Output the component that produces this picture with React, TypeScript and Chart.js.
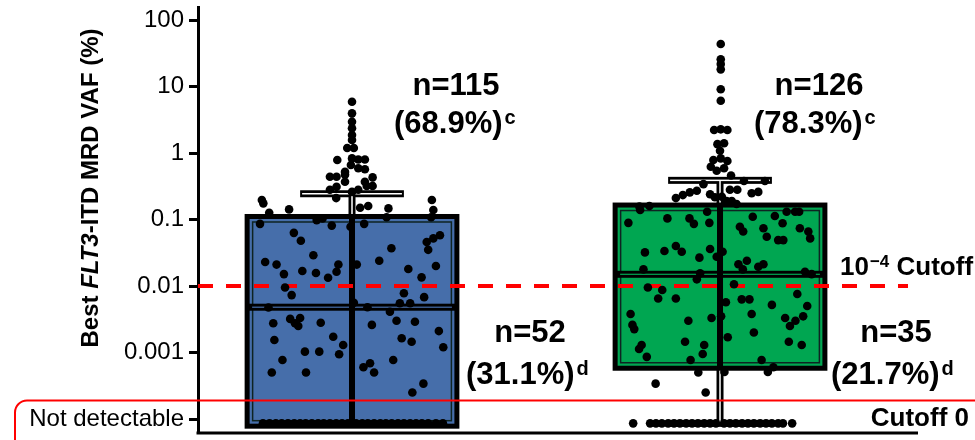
import React, { useEffect, useRef } from "react";
import { Chart, registerables } from "chart.js";

Chart.register(...registerables);

const FONT = "'Liberation Sans', Arial, Helvetica, sans-serif";

// ---------- data ----------
const groupCenters = [1, 2];
const boxColors = ["#466eaa", "#00a651"];

const yTickValues = [0.0001, 0.001, 0.01, 0.1, 1, 10, 100];
const yTickLabels = ["Not detectable", "0.001", "0.01", "0.1", "1", "10", "100"];
const notDetectableValue = 0.000086;
const cutoffValue = 0.01;

const boxQ1 = [0.000078, 0.00058];
const boxMedian = [0.0048, 0.015];
const boxQ3 = [0.111, 0.165];
const whiskerHigh = [0.244, 0.388];
const whiskerLow = [0.000078, 0.000086];

// [horizontal jitter offset (category units), VAF %]
const group1Points: [number, number][] = [
  [0, 5.9], [0, 3.95], [0, 2.96], [0, 2.35], [0, 1.87], [0, 1.57], [-0.013, 1.19], [0.005, 1.19],
  [-0.04, 0.785], [0, 0.83], [0.017, 0.8], [0.035, 0.8], [-0.003, 0.66], [0.017, 0.59], [0.035, 0.57],
  [-0.019, 0.52], [-0.06, 0.44], [-0.042, 0.44], [-0.019, 0.47], [-0.019, 0.37], [0.056, 0.43],
  [0.035, 0.37], [0.056, 0.32], [-0.042, 0.31], [-0.06, 0.28], [0.04, 0.32], [0, 0.26], [0.017, 0.28],
  [-0.043, 0.21],
  [-0.245, 0.196], [-0.241, 0.175], [-0.225, 0.126], [-0.171, 0.142], [0.022, 0.15], [0.044, 0.16],
  [0.099, 0.147], [0.217, 0.196], [0.221, 0.139], [0.215, 0.108], [0.094, 0.108], [-0.096, 0.098],
  [-0.08, 0.104], [-0.25, 0.086], [-0.055, 0.081], [-0.004, 0.078], [0.033, 0.086], [-0.158, 0.063],
  [-0.139, 0.048], [-0.105, 0.029], [0.107, 0.037], [0.203, 0.046], [0.221, 0.052], [0.239, 0.058],
  [0.207, 0.035],
  [0.153, 0.018], [0.228, 0.02], [0.189, 0.0135], [0.141, 0.0078], [0.13, 0.0055], [0.158, 0.0055],
  [0.196, 0.0068], [0.171, 0.0029], [0.135, 0.00164], [0.162, 0.00145], [0.236, 0.0021], [0.248, 0.0012],
  [0.194, 0.00034], [0.164, 0.00025],
  [-0.236, 0.023], [-0.205, 0.021], [-0.185, 0.0151], [-0.135, 0.0168], [-0.098, 0.0157], [-0.065, 0.0133],
  [-0.042, 0.0164], [-0.037, 0.021], [0.013, 0.021], [0.074, 0.024], [-0.182, 0.0095], [-0.164, 0.0073],
  [0.005, 0.0056], [0.042, 0.0048], [-0.227, 0.00475], [0.103, 0.0041], [-0.214, 0.00275], [-0.168, 0.0032],
  [-0.155, 0.00275], [-0.146, 0.0025], [-0.141, 0.0033], [-0.085, 0.0028], [0.054, 0.0026], [0.121, 0.003],
  [-0.211, 0.00154], [-0.051, 0.00173], [-0.024, 0.0013], [-0.128, 0.00103], [-0.089, 0.00103],
  [-0.035, 0.00094], [-0.189, 0.00077], [0.112, 0.00077], [-0.218, 0.0005], [-0.125, 0.0005],
  [0.031, 0.0006], [0.049, 0.00069], [0.06, 0.0005],
];
const group1NotDetectable = [
  -0.242, -0.224, -0.207, -0.191, -0.174, -0.157, -0.141, -0.126, -0.109, -0.092, -0.077, -0.06, -0.043,
  -0.027, -0.011, 0.011, 0.028, 0.043, 0.06, 0.077, 0.092, 0.108, 0.125, 0.141, 0.158, 0.174, 0.19, 0.207,
  0.228, 0.247,
];

const group2Points: [number, number][] = [
  [0.002, 43.5], [0.002, 25.6], [0.002, 21.8], [0.002, 18.1], [0.002, 9.1], [0.002, 6.1],
  [-0.016, 2.22], [0.002, 2.27], [0.02, 2.22], [-0.007, 1.36], [0.011, 1.4], [0, 1.08], [-0.018, 0.785],
  [0.002, 0.83], [0.02, 0.76], [-0.025, 0.62], [-0.009, 0.54], [0.011, 0.59], [0.03, 0.46], [0.065, 0.38],
  [0.122, 0.38], [-0.045, 0.34], [-0.063, 0.27], [-0.082, 0.256], [-0.101, 0.233], [-0.12, 0.21],
  [-0.027, 0.24], [-0.014, 0.216], [0.005, 0.22], [0.018, 0.19], [0.027, 0.28], [0.047, 0.28],
  [0.086, 0.248], [0.104, 0.26], [0.032, 0.19], [0.045, 0.171],
  [-0.219, 0.156], [-0.192, 0.16], [-0.217, 0.139], [-0.249, 0.089], [-0.143, 0.104], [-0.083, 0.104],
  [-0.071, 0.086], [-0.035, 0.131], [-0.029, 0.089], [0.089, 0.11], [0.149, 0.113], [0.181, 0.131],
  [0.204, 0.131], [0.215, 0.131], [0.17, 0.088], [0.118, 0.074], [0.127, 0.055], [0.158, 0.049],
  [0.172, 0.049], [0.217, 0.074], [0.24, 0.066], [0.245, 0.052], [0.054, 0.078], [0.063, 0.066],
  [-0.204, 0.032], [-0.151, 0.0336], [-0.12, 0.04], [-0.104, 0.0328], [-0.056, 0.0267], [-0.027, 0.036],
  [-0.009, 0.0276], [0.007, 0.0328], [0.05, 0.0212], [0.062, 0.0178], [0.073, 0.024], [0.104, 0.0195],
  [0.118, 0.0212], [-0.208, 0.0178], [-0.054, 0.0155], [-0.063, 0.0126], [0.231, 0.0164], [0.249, 0.0151],
  [0.038, 0.0106], [-0.196, 0.0095], [-0.157, 0.0087], [-0.168, 0.0065], [-0.12, 0.0065], [0.016, 0.0057],
  [0.059, 0.0063], [0.08, 0.0063], [0.141, 0.0052], [0.21, 0.0076], [0.237, 0.005], [-0.243, 0.0038],
  [-0.238, 0.0026], [-0.233, 0.00225], [-0.086, 0.003], [-0.023, 0.0033], [0.003, 0.0035], [0.086, 0.0038],
  [0.177, 0.0033], [0.19, 0.0025], [0.205, 0.003], [0.226, 0.0035], [0.021, 0.0017], [0.092, 0.002],
  [-0.213, 0.0013], [-0.22, 0.00113], [-0.199, 0.00086], [-0.095, 0.00145], [-0.043, 0.0013],
  [-0.047, 0.00095], [-0.08, 0.00077], [0.187, 0.00145], [0.222, 0.0013], [0.113, 0.00077],
  [-0.059, 0.0005], [0.012, 0.00051], [0.13, 0.00051], [0.145, 0.0006], [-0.175, 0.00034], [-0.039, 0.00025],
];
const group2NotDetectable = [
  -0.236, -0.19, -0.174, -0.158, -0.141, -0.125, -0.109, -0.092, -0.076, -0.06, -0.043, -0.027, -0.011,
  0.011, 0.027, 0.043, 0.06, 0.076, 0.092, 0.109, 0.125, 0.141, 0.158, 0.171, 0.196,
];

const aboveLabels = ["n=115", "n=126"];
const abovePercents = ["(68.9%)", "(78.3%)"];
const belowLabels = ["n=52", "n=35"];
const belowPercents = ["(31.1%)", "(21.7%)"];

// ---------- styling / geometry ----------
const boxHalfWidth = 0.285;
const capHalfWidth = 0.141;

function toPoints(center: number, pts: [number, number][], nd: number[]) {
  return pts
    .map(([dx, v]) => ({ x: center + dx, y: v }))
    .concat(nd.map((dx) => ({ x: center + dx, y: notDetectableValue })));
}

function drawWhisker(ctx: CanvasRenderingContext2D, cx: number, y1: number, y2: number) {
  ctx.fillStyle = "#000";
  ctx.fillRect(cx - 3.5, y1, 7, y2 - y1);
}
function drawWhiskerInner(ctx: CanvasRenderingContext2D, cx: number, y1: number, y2: number) {
  ctx.fillStyle = "#fff";
  ctx.fillRect(cx - 0.75, y1, 1.5, y2 - y1);
}
function drawCap(ctx: CanvasRenderingContext2D, cx: number, hw: number, y: number) {
  ctx.fillStyle = "#000";
  ctx.fillRect(cx - hw, y - 3.5, 2 * hw, 7);
}
function drawCapInner(ctx: CanvasRenderingContext2D, cx: number, hw: number, y: number) {
  ctx.fillStyle = "#fff";
  ctx.fillRect(cx - hw + 2, y - 0.75, 2 * hw - 4, 1.5);
}

const boxPlugin = {
  id: "boxes",
  beforeDatasetsDraw(chart: any) {
    const { ctx, chartArea } = chart;
    const xs = chart.scales.x;
    const ys = chart.scales.y;
    ctx.save();
    for (let i = 0; i < groupCenters.length; i++) {
      const cx = xs.getPixelForValue(groupCenters[i]);
      const hw = xs.getPixelForValue(groupCenters[i] + boxHalfWidth) - cx;
      const chw = xs.getPixelForValue(groupCenters[i] + capHalfWidth) - cx;
      const top = ys.getPixelForValue(boxQ3[i]);
      const bottom = ys.getPixelForValue(boxQ1[i]);
      const med = ys.getPixelForValue(boxMedian[i]);
      const wHi = ys.getPixelForValue(whiskerHigh[i]);
      const wLo = ys.getPixelForValue(whiskerLow[i]);
      const hasLow = wLo > bottom + 2;

      drawWhisker(ctx, cx, wHi, top);
      drawCap(ctx, cx, chw, wHi);
      if (hasLow) {
        drawWhisker(ctx, cx, bottom, wLo);
        drawCap(ctx, cx, chw, wLo);
      }
      drawWhiskerInner(ctx, cx, wHi, top);
      drawCapInner(ctx, cx, chw, wHi);
      if (hasLow) {
        drawWhiskerInner(ctx, cx, bottom, wLo);
        drawCapInner(ctx, cx, chw, wLo);
      }

      ctx.fillStyle = boxColors[i];
      ctx.fillRect(cx - hw, top, 2 * hw, bottom - top);
      ctx.strokeStyle = "#0e2422";
      ctx.lineWidth = 1.5;
      ctx.strokeRect(cx - hw + 5.5, top + 5.5, 2 * hw - 11, bottom - top - 11);
      ctx.strokeStyle = "#000";
      ctx.lineWidth = 5;
      ctx.strokeRect(cx - hw, top, 2 * hw, bottom - top);

      ctx.fillStyle = "#000";
      ctx.fillRect(cx - hw, med - 3.5, 2 * hw, 7);
      ctx.fillStyle = boxColors[i];
      ctx.fillRect(cx - hw + 5, med - 0.6, 2 * hw - 10, 1.2);

      ctx.fillStyle = "#000";
      ctx.fillRect(cx - 3, top, 6, bottom - top);
    }

    const yc = ys.getPixelForValue(cutoffValue);
    ctx.strokeStyle = "#ff0000";
    ctx.lineWidth = 4;
    ctx.setLineDash([15, 13]);
    ctx.beginPath();
    ctx.moveTo(chartArea.left, yc);
    ctx.lineTo(chartArea.right - 10, yc);
    ctx.stroke();
    ctx.setLineDash([]);
    ctx.restore();
  },
  afterDraw(chart: any) {
    const { ctx, chartArea } = chart;
    ctx.save();
    ctx.strokeStyle = "#000";
    ctx.lineWidth = 3;
    ctx.beginPath();
    ctx.moveTo(chartArea.left - 1.5, chartArea.bottom);
    ctx.lineTo(chartArea.right, chartArea.bottom);
    ctx.stroke();

    const parts = [
      { t: "Best ", it: false },
      { t: "FLT3", it: true },
      { t: "-ITD MRD VAF (%)", it: false },
    ];
    const fs = 24;
    const fontFor = (it: boolean) => `${it ? "italic " : ""}bold ${fs}px ${FONT}`;
    let total = 0;
    for (const p of parts) {
      ctx.font = fontFor(p.it);
      total += ctx.measureText(p.t).width;
    }
    ctx.translate(98, 188);
    ctx.rotate(-Math.PI / 2);
    ctx.fillStyle = "#000";
    ctx.textBaseline = "alphabetic";
    ctx.textAlign = "left";
    let xx = -total / 2;
    for (const p of parts) {
      ctx.font = fontFor(p.it);
      ctx.fillText(p.t, xx, 0);
      xx += ctx.measureText(p.t).width;
    }
    ctx.setTransform(1, 0, 0, 1, 0, 0);

    const big = `bold 31px ${FONT}`;
    const sup = `bold 20px ${FONT}`;
    ctx.fillStyle = "#000";
    ctx.textAlign = "center";
    ctx.font = big;
    ctx.fillText(aboveLabels[0], 456, 95);
    ctx.fillText(aboveLabels[1], 819, 95);
    ctx.fillText(belowLabels[0], 530, 342);
    ctx.fillText(belowLabels[1], 896, 342);

    const pct = (txt: string, s: string, x: number, y: number) => {
      ctx.textAlign = "left";
      ctx.font = big;
      ctx.fillText(txt, x, y);
      const w = ctx.measureText(txt).width;
      ctx.font = sup;
      ctx.fillText(s, x + w + 2, y - 9);
    };
    pct(abovePercents[0], "c", 394, 133);
    pct(abovePercents[1], "c", 754, 133);
    pct(belowPercents[0], "d", 466, 384);
    pct(belowPercents[1], "d", 831, 384);

    ctx.textAlign = "left";
    ctx.font = `bold 26px ${FONT}`;
    ctx.fillText("10", 840, 275);
    const w10 = ctx.measureText("10").width;
    ctx.font = `bold 17px ${FONT}`;
    ctx.fillText("\u22124", 840 + w10 + 1, 267);
    const wsup = ctx.measureText("\u22124").width;
    ctx.font = `bold 26px ${FONT}`;
    ctx.fillText(" Cutoff", 840 + w10 + 1 + wsup, 275);

    ctx.textAlign = "right";
    ctx.font = `bold 26px ${FONT}`;
    ctx.fillText("Cutoff 0", 969, 426);

    ctx.strokeStyle = "#ff0000";
    ctx.lineWidth = 2;
    ctx.beginPath();
    (ctx as any).roundRect(15, 400.5, 1000, 100, 12);
    ctx.stroke();
    ctx.restore();
  },
};

export default function App() {
  const ref = useRef<HTMLCanvasElement>(null);
  useEffect(() => {
    document.body.style.margin = "0";
    const canvas = ref.current!;
    const chart = new Chart(canvas, {
      type: "scatter",
      data: {
        datasets: [
          {
            data: toPoints(groupCenters[0], group1Points, group1NotDetectable),
            pointRadius: 4.3,
            pointBackgroundColor: "#000",
            pointBorderWidth: 0,
          },
          {
            data: toPoints(groupCenters[1], group2Points, group2NotDetectable),
            pointRadius: 4.3,
            pointBackgroundColor: "#000",
            pointBorderWidth: 0,
          },
        ],
      },
      options: {
        responsive: false,
        devicePixelRatio: 1,
        animation: false,
        layout: { padding: { left: 0, right: 57, top: 7, bottom: 7 } },
        plugins: { legend: { display: false }, tooltip: { enabled: false } },
        scales: {
          x: { type: "linear", display: false, min: 0.5815, max: 2.538 },
          y: {
            type: "logarithmic",
            min: 6.16e-5,
            max: 156.9,
            afterBuildTicks: (scale: any) => {
              scale.ticks = yTickValues.map((v) => ({ value: v }));
            },
            afterFit: (scale: any) => {
              scale.width = 198;
              scale.paddingTop = 0;
              scale.paddingBottom = 0;
            },
            ticks: {
              autoSkip: false,
              color: "#000",
              padding: 5,
              font: { family: FONT, size: 24 },
              callback: (_v: any, i: number) => yTickLabels[i],
            },
            grid: {
              display: true,
              drawOnChartArea: false,
              drawTicks: true,
              tickLength: 9,
              tickWidth: 3,
              tickColor: "#000",
            },
            border: { display: true, color: "#000", width: 3 },
          },
        },
      } as any,
      plugins: [boxPlugin],
    });
    return () => chart.destroy();
  }, []);
  return (
    <div style={{ width: 975, height: 440 }}>
      <canvas ref={ref} width={975} height={440} style={{ display: "block", width: 975, height: 440 }} />
    </div>
  );
}
